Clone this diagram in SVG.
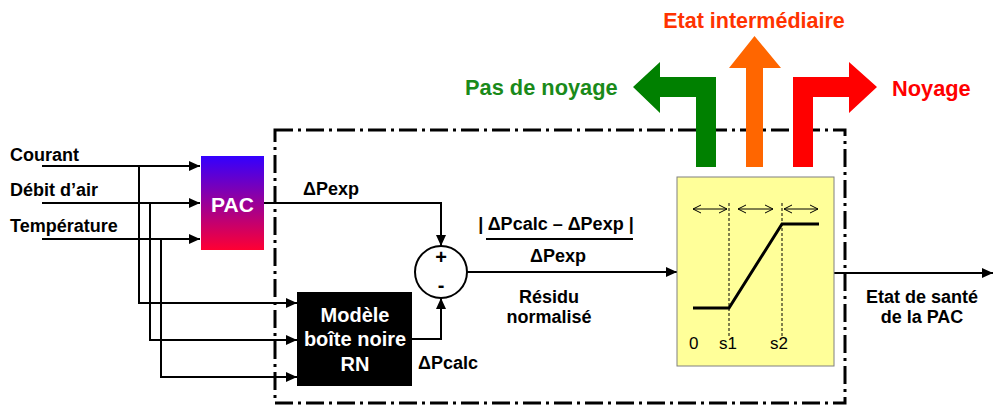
<svg xmlns="http://www.w3.org/2000/svg" width="993" height="408" viewBox="0 0 993 408">
<style>
.t{font-family:"Liberation Sans",Arial,sans-serif;font-weight:bold;font-size:18px;fill:#000}
.w{fill:#fff;font-size:20px}
.c{text-anchor:middle}
.ln{fill:none;stroke:#000;stroke-width:2}
.thin{fill:none;stroke:#000;stroke-width:1}
.dash{fill:none;stroke:#000;stroke-width:1;stroke-dasharray:3 2}
.n{font-family:"Liberation Sans",Arial,sans-serif;font-size:17px;fill:#000}
</style>
<defs>
<marker id="ah" markerUnits="userSpaceOnUse" markerWidth="11" markerHeight="10" refX="11" refY="5" orient="auto">
<path d="M0,0 L11,5 L0,10 z" fill="#000"/>
</marker>
<marker id="oa" markerUnits="userSpaceOnUse" markerWidth="10" markerHeight="10" refX="9" refY="5" orient="auto-start-reverse">
<path d="M1,1 L9,5 L1,9" fill="none" stroke="#000" stroke-width="1"/>
</marker>
<linearGradient id="pacg" x1="0" y1="0" x2="0" y2="1">
<stop offset="0" stop-color="#3300ff"/>
<stop offset="1" stop-color="#ff0033"/>
</linearGradient>
</defs>
<rect width="993" height="408" fill="#fff"/>

<g id="frame">
<rect x="275" y="130" width="570" height="273" fill="none" stroke="#000" stroke-width="3" stroke-dasharray="18 5 3 5"/>
</g>

<g id="inputs">
<text class="t" x="10" y="161">Courant</text>
<text class="t" x="10" y="196">Débit d’air</text>
<text class="t" x="10" y="232">Température</text>
</g>

<g id="connectors">
<path class="ln" d="M42,166 H200" marker-end="url(#ah)"/>
<path class="ln" d="M42,203 H200" marker-end="url(#ah)"/>
<path class="ln" d="M42,239 H200" marker-end="url(#ah)"/>
<path class="ln" d="M139,166 V303 H297" marker-end="url(#ah)"/>
<path class="ln" d="M150,203 V340 H297" marker-end="url(#ah)"/>
<path class="ln" d="M161,239 V377 H297" marker-end="url(#ah)"/>
<path class="ln" d="M264,203 H441 V246" marker-end="url(#ah)"/>
<path class="ln" d="M412,339 H441 V298" marker-end="url(#ah)"/>
<path class="ln" d="M467,272 H677" marker-end="url(#ah)"/>
<path class="ln" d="M834,273 H993" marker-end="url(#ah)"/>
</g>

<g id="pac">
<rect x="201" y="156" width="63" height="94" fill="url(#pacg)"/>
<text class="t w c" x="232.5" y="212" style="font-size:21px">PAC</text>
</g>

<g id="model">
<rect x="297" y="292" width="115" height="94" fill="#000"/>
<text class="t w c" x="355" y="322">Modèle</text>
<text class="t w c" x="355" y="346">boîte noire</text>
<text class="t w c" x="355" y="371">RN</text>
</g>

<g id="sum">
<circle cx="441" cy="272" r="26" fill="#fff" stroke="#000" stroke-width="2"/>
<text class="t c" x="441" y="264" style="font-size:20px">+</text>
<text class="t c" x="441" y="292" style="font-size:20px">-</text>
</g>

<g id="labels">
<text class="t" x="303" y="195">ΔPexp</text>
<text class="t" x="418" y="369">ΔPcalc</text>
<text class="t c" x="556" y="230">| ΔPcalc – ΔPexp |</text>
<line x1="486" y1="239" x2="633" y2="239" stroke="#000" stroke-width="2"/>
<text class="t c" x="558" y="262">ΔPexp</text>
<text class="t c" x="549" y="303">Résidu</text>
<text class="t c" x="549" y="323">normalisé</text>
<text class="t c" x="922" y="303">Etat de santé</text>
<text class="t c" x="922" y="323">de la PAC</text>
</g>

<g id="classifier">
<rect x="677" y="177" width="157" height="189" fill="#ffff99" stroke="#808080" stroke-width="1"/>
<line class="dash" x1="729" y1="203" x2="729" y2="337"/>
<line class="dash" x1="782" y1="203" x2="782" y2="337"/>
<line class="thin" x1="693" y1="209" x2="727" y2="209" marker-start="url(#oa)" marker-end="url(#oa)"/>
<line class="thin" x1="738" y1="209" x2="773" y2="209" marker-start="url(#oa)" marker-end="url(#oa)"/>
<line class="thin" x1="784" y1="209" x2="818" y2="209" marker-start="url(#oa)" marker-end="url(#oa)"/>
<path d="M693,308 H729 L782,224 H819" fill="none" stroke="#000" stroke-width="3"/>
<text class="n" x="689" y="349">0</text>
<text class="n" x="719" y="349">s1</text>
<text class="n" x="770" y="349">s2</text>
</g>

<g id="arrow-green">
<path d="M716,167 V77 H660 V62 L633,87 L660,113 V97 H696 V167 Z" fill="#008000"/>
<text class="t" x="465" y="95" style="font-size:21.8px;fill:#1a8a1a">Pas de noyage</text>
</g>
<g id="arrow-orange">
<path d="M746,167 V68 H729 L754.5,36 L781,68 H763 V167 Z" fill="#ff6600"/>
<text class="t c" x="754" y="28" style="font-size:21.5px;fill:#ff3300">Etat intermédiaire</text>
</g>
<g id="arrow-red">
<path d="M793,167 V77 H849 V62 L877,87 L849,113 V97 H813 V167 Z" fill="#ff0000"/>
<text class="t" x="892" y="96" style="font-size:21.8px;fill:#ff0000">Noyage</text>
</g>
</svg>
